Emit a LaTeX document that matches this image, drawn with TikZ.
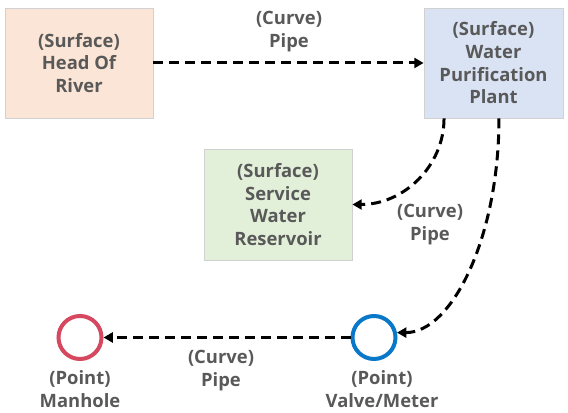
\documentclass[tikz,border=0pt]{standalone}
\usepackage{fontspec}
\setmainfont{Open Sans}
\usetikzlibrary{arrows.meta}
\definecolor{txt}{HTML}{595959}
\definecolor{peach}{HTML}{FBE5D6}
\definecolor{skyfill}{HTML}{DAE3F3}
\definecolor{mintfill}{HTML}{E2F0D9}
\definecolor{manholered}{HTML}{D6485F}
\definecolor{valveblue}{HTML}{0A78C8}
\tikzset{
  labelfont/.style={font=\bfseries\fontsize{13.8}{17}\selectfont, text=txt},
  surface/.style={draw=black!18, line width=0.6pt, minimum width=#1, align=center,
    labelfont, inner sep=1pt},
  pointmark/.style={circle, draw=#1, line width=3pt, fill=white, minimum size=32.25pt, inner sep=0pt},
  caption/.style={align=center, labelfont, inner sep=1pt},
  pipe/.style={line width=2.25pt, dash pattern=on 7.5pt off 4.5pt,
    -{Triangle[length=7pt,width=7.5pt]}}
}
\begin{document}
\begin{tikzpicture}[x=0.75pt,y=0.75pt]
  \useasboundingbox (0,0) rectangle (568,413);

  % surfaces
  \node[surface=111pt, fill=peach, minimum height=82.5pt] (river) at (79,350)
    {(Surface)\\Head Of\\River};
  \node[surface=104.25pt, fill=skyfill, minimum height=82.5pt] (plant) at (493.5,350)
    {(Surface)\\Water\\Purification\\Plant};
  \node[surface=111pt, fill=mintfill, minimum height=83.25pt] (reservoir) at (278,208.5)
    {(Surface)\\Service\\Water\\Reservoir};

  % points
  \node[pointmark=manholered] (manhole) at (80,75.5) {};
  \node[pointmark=valveblue] (valve) at (374,75.5) {};
  \node[caption, anchor=north] (manholelbl) at ([yshift=-6pt]manhole.south) {(Point)\\Manhole};
  \node[caption, anchor=north] (valvelbl) at ([yshift=-6pt,xshift=6pt]valve.south) {(Point)\\Valve/Meter};

  % pipes
  \draw[pipe] (river.east) -- (plant.west);
  \draw[pipe] ([xshift=-37.1pt]plant.south) .. controls +(0,-48) and +(51,0) .. (reservoir.east);
  \draw[pipe] ([xshift=4.1pt]plant.south) .. controls +(0,-119) and +(55,0) .. (valve.12);
  \draw[pipe] (valve.west) -- (manhole.east);

  % pipe captions
  \node[caption] (toplbl) at (289,381.5) {(Curve)\\Pipe};
  \node[caption] (rightlbl) at (430,188.5) {(Curve)\\Pipe};
  \node[caption] (bottomlbl) at (221,42.5) {(Curve)\\Pipe};
\end{tikzpicture}
\end{document}
